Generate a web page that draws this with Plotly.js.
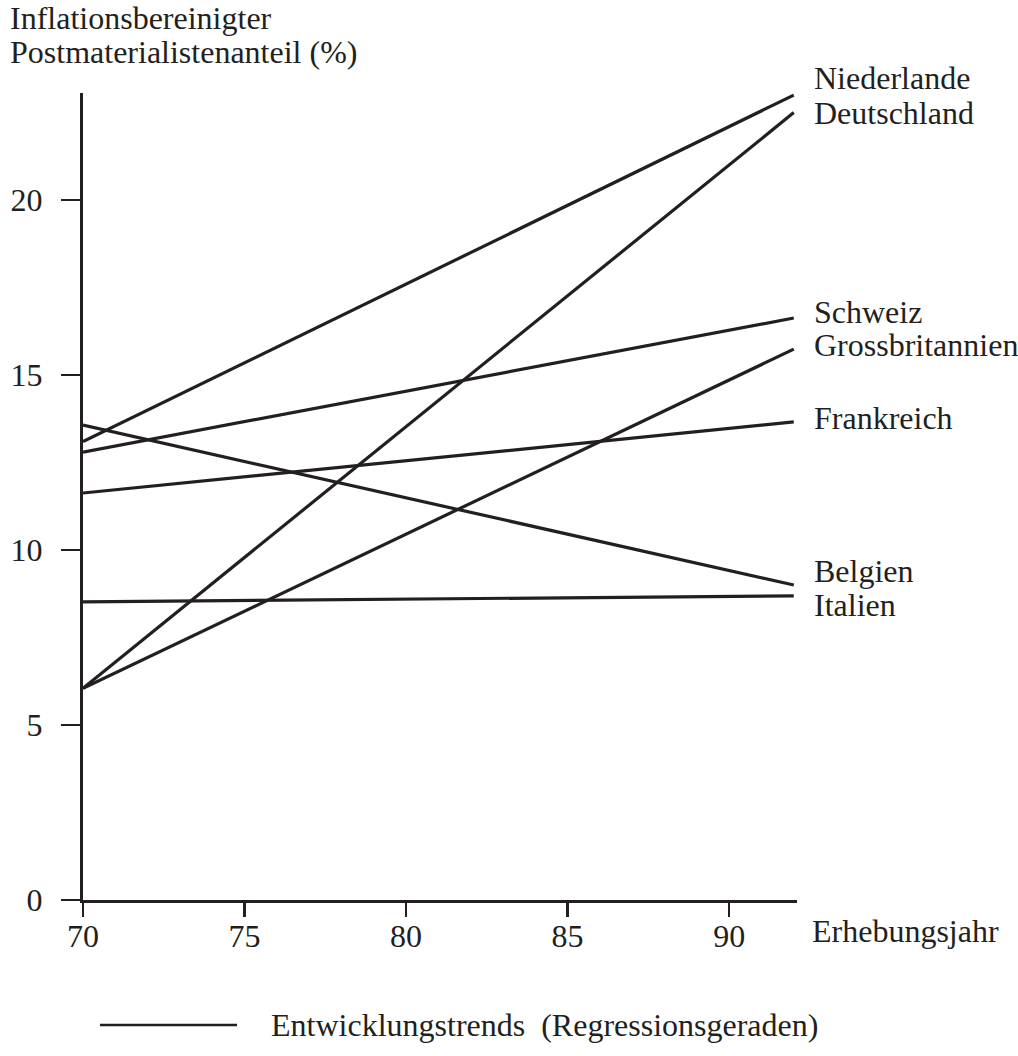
<!DOCTYPE html>
<html>
<head>
<meta charset="utf-8">
<script src="https://cdn.plot.ly/plotly-3.0.1.min.js"></script>
<style>
  html, body { margin: 0; padding: 0; background: #fff; }
  #chart { width: 1018px; height: 1056px; }
</style>
</head>
<body>
<div id="chart"></div>
<script>
// ---- data ----
const years = [70, 92];
const countries = ['Niederlande', 'Deutschland', 'Schweiz', 'Grossbritannien', 'Frankreich', 'Belgien', 'Italien'];
const start1970 = [13.1, 6.05, 12.8, 6.05, 11.63, 13.57, 8.52];
const end1992 = [23.0, 22.5, 16.63, 15.74, 13.66, 9.0, 8.69];
const xTickVals = [70, 75, 80, 85, 90];
const yTickVals = [0, 5, 10, 15, 20];
const yTitleLines = ['Inflationsbereinigter', 'Postmaterialistenanteil (%)'];
const xTitle = 'Erhebungsjahr';
const legendText = 'Entwicklungstrends&nbsp;&nbsp;(Regressionsgeraden)';

// ---- style ----
const FONT = '"Liberation Serif", "Times New Roman", serif';
const INK = '#231f20';
const FS = 32;
const labelShift = [17, 0, 6, 4, 4, 14, -9];   // px nudges of end labels

const traces = countries.map((c, i) => ({
  type: 'scatter', mode: 'lines', name: c,
  x: years, y: [start1970[i], end1992[i]],
  line: { color: INK, width: 3.2 },
  hoverinfo: 'skip', showlegend: false
}));

const annotations = countries.map((c, i) => ({
  text: c, x: years[1], y: end1992[i], xref: 'x', yref: 'y',
  xanchor: 'left', yanchor: 'middle', xshift: 18, yshift: labelShift[i],
  showarrow: false, font: { family: FONT, size: FS, color: INK }
}));

annotations.push({
  text: xTitle, x: years[1], y: 0, xref: 'x', yref: 'y',
  xanchor: 'left', yanchor: 'middle', xshift: 16, yshift: -31,
  showarrow: false, font: { family: FONT, size: FS, color: INK }
});

yTitleLines.forEach((t, i) => annotations.push({
  text: t, xref: 'paper', yref: 'paper', x: 0, y: 1,
  xanchor: 'left', yanchor: 'middle', xshift: -75, yshift: 75 - i * 34,
  showarrow: false, font: { family: FONT, size: FS, color: INK }
}));

annotations.push({
  text: legendText, xref: 'paper', yref: 'paper', x: 0, y: 0,
  xanchor: 'left', yanchor: 'middle', xshift: 186, yshift: -125,
  showarrow: false, font: { family: FONT, size: FS, color: INK }
});

const layout = {
  width: 1018, height: 1056,
  margin: { l: 83, r: 221, t: 93, b: 156 },
  paper_bgcolor: '#fff', plot_bgcolor: '#fff',
  showlegend: false,
  xaxis: {
    range: [70, 92.1], tickvals: xTickVals, ticktext: xTickVals.map(String),
    showgrid: false, zeroline: false, showline: true, linecolor: INK, linewidth: 3,
    ticks: 'outside', ticklen: 14, tickwidth: 2.5, tickcolor: INK,
    ticklabelstandoff: -8,
    tickfont: { family: FONT, size: FS, color: INK }
  },
  yaxis: {
    range: [0, 23.06], tickvals: yTickVals, ticktext: yTickVals.map(String),
    showgrid: false, zeroline: false, showline: true, linecolor: INK, linewidth: 3,
    ticks: 'outside', ticklen: 19, tickwidth: 2.5, tickcolor: INK,
    ticklabelstandoff: 12,
    tickfont: { family: FONT, size: FS, color: INK }
  },
  shapes: [{
    type: 'line', xref: 'paper', yref: 'paper',
    x0: 17, x1: 154, y0: -125, y1: -125,
    xsizemode: 'pixel', ysizemode: 'pixel', xanchor: 0, yanchor: 0,
    line: { color: INK, width: 2.5 }
  }],
  annotations: annotations
};

Plotly.newPlot('chart', traces, layout, { staticPlot: true, displayModeBar: false });
</script>
</body>
</html>
